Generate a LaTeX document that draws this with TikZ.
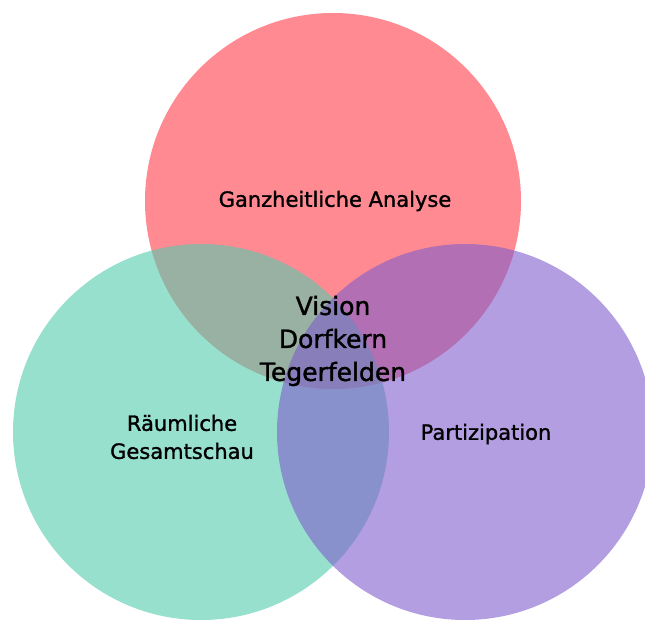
\documentclass[tikz,border=0pt]{standalone}
\usepackage{fontspec}
\setmainfont{DejaVu Sans}[FakeBold=1.3]
\definecolor{rot}{RGB}{255,60,73}
\definecolor{gruen}{RGB}{83,203,173}
\definecolor{lila}{RGB}{127,93,203}
\tikzset{
  kreis/.style={fill opacity=0.6, draw=none},
  thema/.style={font=\fontsize{21}{28}\selectfont, align=center, text=black, inner sep=0pt},
  mitte/.style={font=\fontsize{25}{33}\selectfont, align=center, text=black, inner sep=0pt}
}
\begin{document}
\begin{tikzpicture}[x=1pt, y=-1pt]
\useasboundingbox (0,0) rectangle (645,619);
\clip (0,0) rectangle (645,619);
% kreise
\fill [kreis, fill=rot] (333,201) circle [radius=188pt];
\fill [kreis, fill=gruen] (201,432) circle [radius=188pt];
\fill [kreis, fill=lila] (465,432) circle [radius=188pt];
% themen
\node [thema] (analyse) at (335,201) {Ganzheitliche Analyse};
\node [thema] (raum) at (182,437) {Räumliche\\Gesamtschau};
\node [thema] (partizipation) at (486,434) {Partizipation};
% vision in der mitte
\node [mitte] (vision) at (333,341) {Vision\\Dorfkern\\Tegerfelden};
\end{tikzpicture}
\end{document}
